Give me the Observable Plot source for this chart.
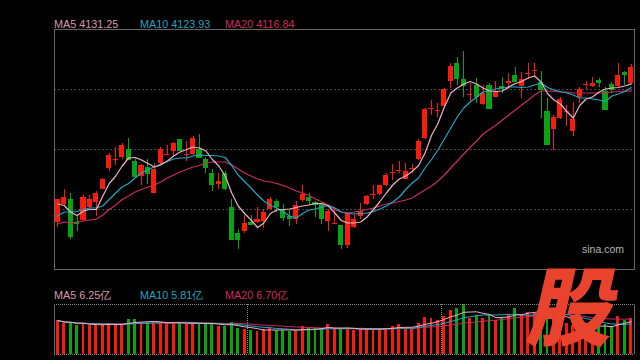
<!DOCTYPE html>
<html><head><meta charset="utf-8">
<script src="https://cdn.jsdelivr.net/npm/d3@7"></script>
<script src="https://cdn.jsdelivr.net/npm/@observablehq/plot@0.6"></script>
<style>
html,body{margin:0;padding:0;background:#000;width:640px;height:360px;overflow:hidden;}
#wrap{position:relative;width:640px;height:360px;font-family:"Liberation Sans",Arial,sans-serif;}
.leg{position:absolute;font-size:10.8px;white-space:nowrap;line-height:11px;}
#main,#vol{position:absolute;left:0;}
#main{top:0;} #vol{top:300px;}
#sina{position:absolute;left:582px;top:244px;font-size:10.5px;line-height:11px;color:#b4b4b4;}
#logo{position:absolute;left:524px;top:262px;font-family:"Noto Sans CJK SC",sans-serif;font-weight:900;font-size:86px;line-height:80px;height:80px;color:#e9432e;transform:skewX(-13deg);transform-origin:50% 100%;}
</style></head><body><div id="wrap"></div>
<script>
const open  = [3855,3891,3901,3854,3859,3885,3895,3921,3963,3979, 3985,4001,3977,3947,3965,3913,3972,3989,3997,4020, 3990,3991,4001,3981,3953,3931,3953,3885,3833,3836, 3855,3855,3857,3881,3897,3880,3867,3860,3899,3905, 3895,3891,3856,3852,3848,3808,3844,3867,3891,3910, 3911,3929,3953,3957,3941,3961,3981,4023,4081,4078, 4087,4137,4173,4140,4109,4128,4091,4128,4105,4127, 4132,4148,4127,4151,4157,4135,4077,4040,4063,4075, 4037,4105,4130,4127,4139,4116,4131,4127,4155,4132];
const high  = [3900,3921,3912,3867,3909,3908,3916,3943,3993,4005, 4012,4023,3980,3971,3980,3972,4004,4008,4015,4021, 4016,4027,4031,3984,3960,3952,3957,3901,3840,3869, 3868,3884,3880,3904,3901,3891,3880,3896,3928,3913, 3896,3893,3880,3885,3848,3875,3869,3892,3909,3928, 3929,3952,3971,3977,3972,3971,4021,4083,4099,4093, 4123,4172,4184,4196,4133,4143,4128,4133,4137,4145, 4152,4164,4155,4173,4173,4156,4103,4068,4104,4088, 4095,4124,4136,4145,4143,4124,4135,4173,4156,4171];
const low   = [3845,3887,3821,3837,3856,3883,3867,3920,3957,3968, 3981,3979,3945,3929,3931,3913,3968,3988,3987,3997, 3976,3989,3984,3952,3917,3921,3919,3820,3801,3832, 3848,3853,3843,3880,3875,3857,3847,3851,3895,3888, 3865,3851,3837,3852,3800,3803,3843,3861,3889,3900, 3909,3927,3939,3952,3940,3952,3979,4021,4069,4065, 4085,4123,4128,4104,4097,4093,4089,4080,4104,4113, 4121,4135,4103,4140,4145,4063,4009,3999,4061,4047, 4027,4093,4120,4124,4125,4079,4113,4125,4129,4131];
const close = [3900,3904,3827,3853,3904,3900,3912,3940,3989,3980, 4009,3981,3947,3968,3952,3961,4000,3990,4012,3999, 3991,4023,3985,3965,3931,3937,3923,3820,3821,3853, 3851,3860,3875,3900,3887,3865,3863,3889,3911,3899, 3891,3863,3876,3853,3811,3873,3861,3876,3907,3911, 3929,3949,3954,3958,3956,3962,4016,4080,4082,4079, 4120,4167,4143,4128,4110,4107,4113,4083,4116,4123, 4136,4136,4140,4152,4158,4120,4011,4064,4100,4076, 4060,4121,4131,4132,4135,4080,4121,4148,4151,4164];
const ma5  = [3891,3888,3875,3868,3877,3880,3880,3907,3932,3947, 3967,3983,3984,3979,3972,3965,3969,3977,3987,3995, 4000,4005,4003,3997,3980,3967,3947,3913,3887,3872, 3859,3844,3853,3872,3879,3880,3881,3884,3887,3889, 3892,3892,3887,3873,3858,3853,3853,3855,3865,3880, 3896,3913,3929,3941,3947,3956,3968,3993,4028,4052, 4085,4113,4123,4131,4136,4131,4123,4117,4116,4117, 4125,4132,4136,4143,4147,4135,4112,4099,4091,4076, 4063,4088,4101,4105,4115,4121,4123,4124,4127,4131.25];
const ma10 = [3867,3875,3875,3876,3880,3883,3883,3887,3900,3913, 3925,3932,3943,3953,3960,3965,3971,3976,3981,3983, 3983,3987,3989,3988,3988,3987,3984,3968,3949,3936, 3923,3909,3897,3888,3883,3875,3867,3863,3872,3879, 3881,3885,3888,3883,3875,3872,3871,3872,3873,3876, 3881,3887,3895,3905,3920,3933,3943,3963,3980,3999, 4021,4043,4065,4083,4095,4105,4115,4118,4121,4124, 4125,4125,4124,4125,4129,4133,4124,4119,4116,4113, 4109,4103,4103,4101,4099,4096,4107,4111,4116,4123.93];
const ma20 = [3851,3855,3853,3855,3857,3859,3861,3869,3880,3889, 3900,3907,3915,3920,3925,3929,3935,3943,3949,3955, 3960,3965,3968,3973,3975,3975,3975,3969,3961,3953, 3947,3941,3937,3935,3932,3928,3923,3917,3913,3908, 3901,3895,3889,3880,3875,3873,3875,3877,3880,3883, 3887,3891,3893,3896,3899,3903,3911,3919,3927,3937, 3949,3963,3977,3991,4004,4017,4031,4040,4049,4059, 4069,4079,4089,4099,4109,4117,4117,4116,4115,4115, 4113,4113,4113,4113,4113,4113,4115,4116,4117,4116.84];
// volume, unit: 亿
const volume = [6.46,5.89,6.02,5.45,5.89,5.51,5.64,5.64,5.89,5.64, 5.76,6.59,6.59,6.14,6.02,6.14,6.02,5.89,6.14,5.89, 5.89,5.89,5.89,5.89,5.89,5.26,5.26,6.14,4.88,4.75, 4.50,4.31,4.69,5.13,4.56,4.62,4.31,4.62,5.38,4.88, 4.88,4.88,5.64,4.88,4.88,5.00,4.50,4.88,4.88,4.88, 4.88,4.88,5.38,5.64,5.00,5.00,5.89,7.03,6.78,6.52, 7.16,8.30,8.68,9.44,6.78,7.41,6.78,7.54,6.52,7.03, 7.66,8.80,7.66,8.04,7.80,8.50,7.20,7.60,6.80,5.80, 5.50,6.00,5.20,5.00,5.20,5.65,5.26,7.16,6.39,6.78];
const monthStarts = [30, 60];
const gridPrices = [3880, 4000, 4120];
const priceDomain = [3760, 4240];
const volDomain = [0, 9.5];
const priceLegend = ["MA5 4131.25", "MA10 4123.93", "MA20 4116.84"];
const volLegend = ["MA5 6.25亿", "MA10 5.81亿", "MA20 6.70亿"];

const RED = "#f81c0c", GREEN = "#0aa314";
const C5 = "#eeb2c6", C10 = "#1ea8c8", C20 = "#cc2a62";
const T5 = "#d99aae", T10 = "#23a2c2", T20 = "#cf2c5e";

const data = open.map((o, i) => ({i, open: o, high: high[i], low: low[i], close: close[i],
  ma5: ma5[i], ma10: ma10[i], ma20: ma20[i], v: volume[i],
  color: close[i] >= o ? RED : GREEN}));
const xDomain = [-0.5, data.length - 0.5];
const hw = 0.39, vhw = 0.23;

const wrap = document.getElementById("wrap");

const main = Plot.plot({
  width: 640, height: 272,
  marginTop: 29, marginBottom: 3, marginLeft: 54, marginRight: 6,
  x: {domain: xDomain, axis: null},
  y: {domain: priceDomain, axis: null},
  style: {background: "transparent", overflow: "visible"},
  marks: [
    Plot.ruleY(gridPrices, {stroke: "#4a4a4a", strokeDasharray: "2,2", shapeRendering: "crispEdges"}),
    Plot.frame({stroke: "#666", shapeRendering: "crispEdges"}),
    Plot.ruleX(data, {x: "i", y1: "low", y2: "high", stroke: "color", strokeWidth: 1, shapeRendering: "crispEdges"}),
    Plot.rect(data, {x1: d => d.i - hw, x2: d => d.i + hw, y1: "open", y2: "close", fill: "color", shapeRendering: "crispEdges"}),
    Plot.ruleY(data, {x1: d => d.i - hw, x2: d => d.i + hw, y: "close", stroke: "color", shapeRendering: "crispEdges"}),
    Plot.lineY(data, {x: "i", y: "ma20", stroke: C20, strokeWidth: 1.2}),
    Plot.lineY(data, {x: "i", y: "ma10", stroke: C10, strokeWidth: 1.2}),
    Plot.lineY(data, {x: "i", y: "ma5", stroke: C5, strokeWidth: 1.2})
  ]
});
main.id = "main";
wrap.appendChild(main);

const vol = Plot.plot({
  width: 640, height: 57,
  marginTop: 4, marginBottom: 3, marginLeft: 54, marginRight: 6,
  x: {domain: xDomain, axis: null},
  y: {domain: volDomain, axis: null},
  style: {background: "transparent", overflow: "visible"},
  marks: [
    Plot.rect(data, {x1: d => d.i - vhw, x2: d => d.i + vhw, y1: 0, y2: "v", fill: "color", shapeRendering: "crispEdges"}),
    Plot.ruleY(volDomain, {stroke: "#8a8a8a", strokeDasharray: "1,1", shapeRendering: "crispEdges"}),
    Plot.ruleX(xDomain, {stroke: "#666", shapeRendering: "crispEdges"}),
    Plot.ruleX(monthStarts, {x: d => d - 0.5, stroke: "#8a8a8a", strokeDasharray: "1,1", shapeRendering: "crispEdges"}),
    Plot.lineY(data, Plot.windowY({k: 20, anchor: "end", reduce: "mean"}, {x: "i", y: "v", stroke: C20, strokeWidth: 1})),
    Plot.lineY(data, Plot.windowY({k: 10, anchor: "end", reduce: "mean"}, {x: "i", y: "v", stroke: C10, strokeWidth: 1})),
    Plot.lineY(data, Plot.windowY({k: 5, anchor: "end", reduce: "mean"}, {x: "i", y: "v", stroke: C5, strokeWidth: 1}))
  ]
});
vol.id = "vol";
wrap.appendChild(vol);

function legend(labels, top) {
  const lefts = [54, 140, 225];
  const cols = [T5, T10, T20];
  labels.forEach((t, k) => {
    const s = document.createElement("div");
    s.className = "leg";
    s.textContent = t;
    s.style.left = lefts[k] + "px";
    s.style.top = top + "px";
    s.style.color = cols[k];
    wrap.appendChild(s);
  });
}
legend(priceLegend, 19);
legend(volLegend, 290);

const sina = document.createElement("div");
sina.id = "sina"; sina.textContent = "sina.com";
wrap.appendChild(sina);
const logo = document.createElement("div");
logo.id = "logo"; logo.textContent = "股";
wrap.appendChild(logo);
</script>
</body></html>
